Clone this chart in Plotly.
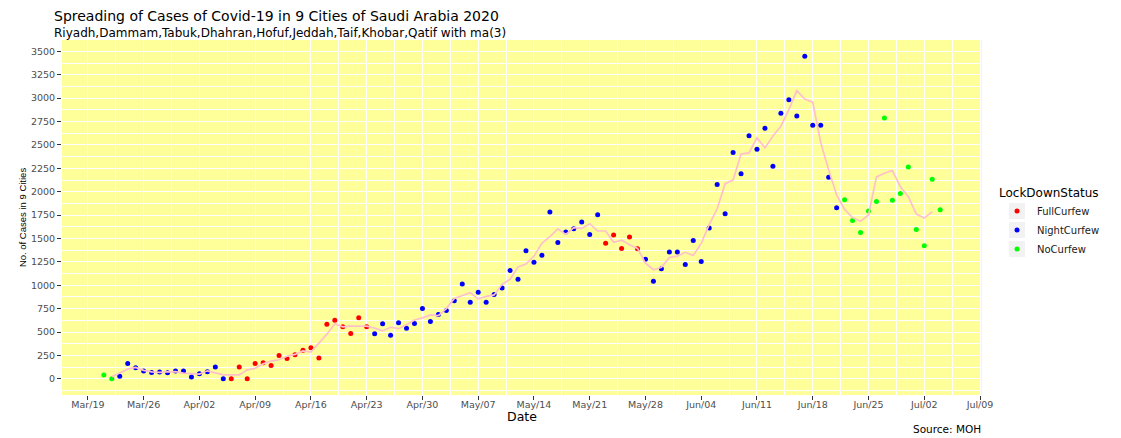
import pandas as pd
import plotly.graph_objects as go

# ---------------- data ----------------
start_date = "2020-03-21"
cases = [
    40, 0, 27, 165, 119, 83, 69, 73, 66, 83, 83,                      # Mar 21-31
    19, 55, 77, 126, 0, 0, 126, 0, 165, 173, 144, 250, 218, 258, 307,  # Apr 1-15
    332, 222, 584, 627, 556, 485, 652, 556, 482, 588, 467, 599, 542, 592, 752,  # Apr 16-30
    613, 688, 730, 834, 1015, 819, 925, 819, 901, 972, 1157, 1064, 1370, 1245, 1320,  # May 1-15
    1782, 1458, 1569, 1604, 1676, 1544, 1754, 1448, 1538, 1394, 1516, 1391, 1277, 1043, 1178, 1356,  # May 16-31
    1356, 1221, 1480, 1253, 1612, 2077, 1764, 2418, 2191, 2599, 2454, 2678, 2273, 2838, 2983,  # Jun 1-15
    2809, 3449, 2710, 2710, 2155, 1828, 1913, 1693, 1565, 1793, 1895, 2788, 1910, 1981, 2265,  # Jun 16-30
    1597, 1423, 2134, 1807,                                            # Jul 1-4
]
status = (["NoCurfew"] * 2 + ["NightCurfew"] * 14 + ["FullCurfew"] * 18 +
          ["NightCurfew"] * 29 + ["FullCurfew"] * 5 + ["NightCurfew"] * 25 +
          ["NoCurfew"] * 13)
status_levels = ["FullCurfew", "NightCurfew", "NoCurfew"]
status_colors = ["#FF0000", "#0000FF", "#00FF00"]

tick_dates = ["2020-03-19", "2020-03-26", "2020-04-02", "2020-04-09", "2020-04-16",
              "2020-04-23", "2020-04-30", "2020-05-07", "2020-05-14", "2020-05-21",
              "2020-05-28", "2020-06-04", "2020-06-11", "2020-06-18", "2020-06-25",
              "2020-07-02", "2020-07-09"]
tick_labels = ["Mar/19", "Mar/26", "Apr/02", "Apr/09", "Apr/16", "Apr/23", "Apr/30",
               "May/07", "May/14", "May/21", "May/28", "Jun/04", "Jun/11", "Jun/18",
               "Jun/25", "Jul/02", "Jul/09"]
y_ticks = [0, 250, 500, 750, 1000, 1250, 1500, 1750, 2000, 2250, 2500, 2750, 3000, 3250, 3500]

# ---------------- derived ----------------
df = pd.DataFrame({
    "date": pd.date_range(start_date, periods=len(cases), freq="D"),
    "cases": cases,
    "status": status,
})
df["ma3"] = df["cases"].rolling(3, center=True).mean()

FONT = "DejaVu Sans"
OFF = 8                      # default page body margin
W, H = 1121 - OFF, 438 - OFF
# plot area in page pixels: x 62..982, y 40..395
ML = 62 - OFF
MT = 40 - OFF
MR = W - (982 - OFF)
MB = H - (395 - OFF)
PW, PH = W - ML - MR, H - MT - MB


def px_x(p):
    """page pixel -> paper x"""
    return (p - OFF - ML) / PW


def px_y(p):
    """page pixel -> paper y"""
    return (H - MB - (p - OFF)) / PH


fig = go.Figure()
for lvl, col in zip(status_levels, status_colors):
    sub = df[df["status"] == lvl]
    fig.add_trace(go.Scatter(
        x=sub["date"], y=sub["cases"], mode="markers", name=lvl,
        marker=dict(color=col, size=5, line=dict(width=0)),
    ))
fig.add_trace(go.Scatter(
    x=df["date"], y=df["ma3"], mode="lines", name="ma(3)", showlegend=False,
    line=dict(color="#FFC0CB", width=1.7),
))

# expanded ranges (5 % like ggplot)
xmin, xmax = df["date"].min(), df["date"].max()
xpad = (xmax - xmin) * 0.05
ymin, ymax = min(cases), max(cases)
ypad = (ymax - ymin) * 0.05

# light grey legend key boxes (ggplot style), behind the legend symbols
key_centers = [211, 230, 249]
key_shapes = [
    dict(type="rect", xref="paper", yref="paper", layer="below",
         x0=px_x(1017 - 8), x1=px_x(1017 + 8), y0=px_y(c + 8), y1=px_y(c - 8),
         fillcolor="#F2F2F2", line=dict(width=0))
    for c in key_centers
]

fig.update_layout(
    width=W, height=H,
    margin=dict(l=ML, r=MR, t=MT, b=MB, autoexpand=False),
    paper_bgcolor="white",
    plot_bgcolor="#FFFF99",
    font=dict(family=FONT, color="#000000"),
    title=dict(
        text="Spreading of Cases of Covid-19 in 9 Cities of Saudi Arabia 2020",
        font=dict(family=FONT, size=14, color="#000000"),
        x=(54 - OFF) / W, xref="container", xanchor="left",
        y=1 - (16 - OFF) / H, yref="container", yanchor="middle",
        automargin=False,
    ),
    xaxis=dict(
        type="date", automargin=False,
        range=[xmin - xpad, xmax + xpad],
        tickvals=tick_dates, ticktext=tick_labels,
        ticks="outside", ticklen=4, tickcolor="#333333", tickwidth=1,
        ticklabelstandoff=-3,
        tickfont=dict(family=FONT, size=9.5, color="#4D4D4D"),
        showgrid=True, gridcolor="white", gridwidth=1.1,
        minor=dict(dtick=3.5 * 86400000, tick0="2020-03-19", showgrid=True,
                   gridcolor="white", gridwidth=0.55, ticks=""),
        zeroline=False, showline=False,
    ),
    yaxis=dict(
        automargin=False,
        range=[ymin - ypad, ymax + ypad],
        tickvals=y_ticks,
        ticks="outside", ticklen=4, tickcolor="#333333", tickwidth=1,
        tickfont=dict(family=FONT, size=9.5, color="#4D4D4D"),
        showgrid=True, gridcolor="white", gridwidth=1.1,
        minor=dict(dtick=125, tick0=0, showgrid=True,
                   gridcolor="white", gridwidth=0.55, ticks=""),
        zeroline=False, showline=False,
        title=dict(text="No. of Cases in 9 Cities",
                   font=dict(family="Liberation Sans", size=9.5, color="#000000"),
                   standoff=2),
    ),
    legend=dict(
        title=dict(text="LockDownStatus", font=dict(family=FONT, size=12, color="#000000")),
        font=dict(family=FONT, size=10, color="#1A1A1A"),
        x=px_x(997), xanchor="left",
        y=px_y(181), yanchor="top",
        bgcolor="rgba(0,0,0,0)",
    ),
    shapes=key_shapes,
    annotations=[
        dict(
            text="Riyadh,Dammam,Tabuk,Dhahran,Hofuf,Jeddah,Taif,Khobar,Qatif with ma(3)",
            xref="paper", yref="paper", x=px_x(52), y=px_y(33),
            xanchor="left", yanchor="middle", showarrow=False,
            font=dict(family=FONT, size=12, color="#000000"),
        ),
        dict(
            text="Date", xref="paper", yref="paper", x=0.5, y=px_y(417),
            xanchor="center", yanchor="middle", showarrow=False,
            font=dict(family=FONT, size=12.5, color="#000000"),
        ),
        dict(
            text="Source: MOH", xref="paper", yref="paper",
            x=px_x(983), y=px_y(429), xanchor="right", yanchor="middle",
            showarrow=False, font=dict(family=FONT, size=10.5, color="#000000"),
        ),
    ],
    showlegend=True,
)

fig.write_html("out.html")
